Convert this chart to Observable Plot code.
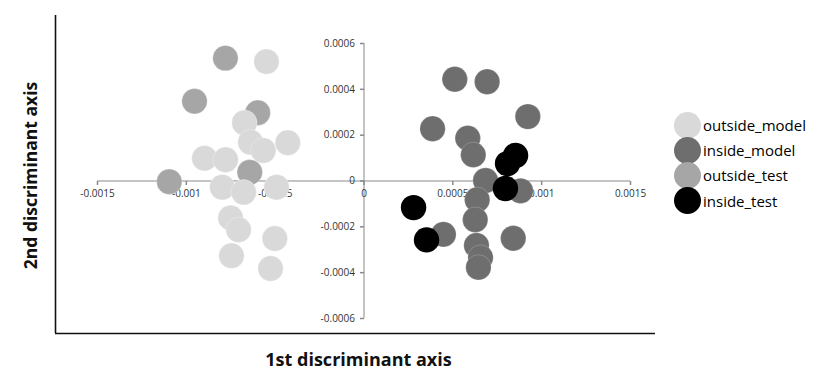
<!DOCTYPE html>
<html>
<head>
<meta charset="utf-8">
<script src="https://cdn.jsdelivr.net/npm/d3@7"></script>
<script src="https://cdn.jsdelivr.net/npm/@observablehq/plot@0.6"></script>
<style>
  body { margin: 0; background: #fff; }
  #wrap { position: relative; width: 827px; height: 377px; overflow: hidden; }
  #legend { position: absolute; left: 0; top: 0; font-family: "Open Sans", sans-serif; }
  .item { position: absolute; left: 674px; height: 27px; display: flex; align-items: center; }
  .sw { width: 27px; height: 27px; border-radius: 50%; }
  .lab { margin-left: 2px; font-size: 15px; color: #000; white-space: nowrap; }
</style>
</head>
<body>
<div id="wrap"><div id="legend"></div></div>
<script>
// ---- data (values in units of the discriminant axes) ----
const seriesNames = ["outside_model", "inside_model", "outside_test", "inside_test"];
const seriesColors = ["#d9d9d9", "#6e6e6e", "#a6a6a6", "#000000"];

const outsideModelX = [-0.000549, -0.000673, -0.000639, -0.000429, -0.000567, -0.000898, -0.000779, -0.000798, -0.000677, -0.000492, -0.000751, -0.000706, -0.000502, -0.000746, -0.000526];
const outsideModelY = [0.000521, 0.000254, 0.000169, 0.000167, 0.000133, 0.000099, 0.000093, -0.000027, -0.000049, -0.000027, -0.000161, -0.000213, -0.000251, -0.000326, -0.000382];

const outsideTestX = [-0.000780, -0.000954, -0.000598, -0.000643, -0.001096];
const outsideTestY = [0.000536, 0.000348, 0.000298, 0.000038, -0.000003];

const insideModelX = [0.000511, 0.000693, 0.000922, 0.000386, 0.000584, 0.000615, 0.000684, 0.000881, 0.000637, 0.000626, 0.000447, 0.000840, 0.000633, 0.000656, 0.000644];
const insideModelY = [0.000444, 0.000433, 0.000281, 0.000228, 0.000187, 0.000114, 0.000002, -0.000043, -0.000082, -0.000169, -0.000233, -0.000250, -0.000281, -0.000334, -0.000377];

const insideTestX = [0.000279, 0.000352, 0.000796, 0.000808, 0.000853];
const insideTestY = [-0.000116, -0.000257, -0.000033, 0.000076, 0.000111];

const xTicks = [-0.0015, -0.001, -0.0005, 0, 0.0005, 0.001, 0.0015];
const xTickLabels = ["-0.0015", "-0.001", "-0.0005", "0", "0.0005", "0.001", "0.0015"];
const yTicks = [-0.0006, -0.0004, -0.0002, 0, 0.0002, 0.0004, 0.0006];
const yTickLabels = ["-0.0006", "-0.0004", "-0.0002", "0", "0.0002", "0.0004", "0.0006"];

const xTitle = "1st discriminant axis";
const yTitle = "2nd discriminant axis";

// ---- build tables ----
function pts(xs, ys, s) { return xs.map((x, i) => ({x, y: ys[i], s})); }
const outsideModel = pts(outsideModelX, outsideModelY, "outside_model");
const outsideTest = pts(outsideTestX, outsideTestY, "outside_test");
const insideModel = pts(insideModelX, insideModelY, "inside_model");
const insideTest = pts(insideTestX, insideTestY, "inside_test");
const xTickData = xTicks.map((v, i) => ({v, t: xTickLabels[i]}));
const yTickData = yTicks.map((v, i) => ({v, t: yTickLabels[i]}));

const tickDown = {draw(ctx) { ctx.moveTo(0, 0); ctx.lineTo(0, 4); }};
const tickLeft = {draw(ctx) { ctx.moveTo(0, 0); ctx.lineTo(-4, 0); }};

const xDomain = [-0.0017364, 0.0016407];
const yDomain = [-0.0006655, 0.0007222];
const axisColor = "#8a8a8a";
const R = 12.7;

const chart = Plot.plot({
  width: 827,
  height: 377,
  marginLeft: 55,
  marginRight: 172,
  marginTop: 15,
  marginBottom: 44,
  style: {background: "#fff", fontFamily: "'Open Sans', sans-serif"},
  x: {domain: xDomain, axis: null},
  y: {domain: yDomain, axis: null},
  color: {domain: seriesNames, range: seriesColors},
  marks: [
    // L-shaped frame
    Plot.ruleX([xDomain[0]], {stroke: "#111", strokeWidth: 1.6}),
    Plot.ruleY([yDomain[0]], {stroke: "#111", strokeWidth: 1.6}),
    // axes through the origin
    Plot.ruleY([0], {x1: d3.min(xTicks), x2: d3.max(xTicks), stroke: axisColor, strokeWidth: 1}),
    Plot.ruleX([0], {y1: d3.min(yTicks), y2: d3.max(yTicks), stroke: axisColor, strokeWidth: 1}),
    Plot.dot(xTickData, {x: "v", y: () => 0, symbol: tickDown, r: 2, fill: "none", stroke: axisColor}),
    Plot.dot(yTickData, {x: () => 0, y: "v", symbol: tickLeft, r: 2, fill: "none", stroke: axisColor}),
    Plot.text(xTickData, {x: "v", y: () => 0, text: "t", dy: 13, fontSize: 10, fill: "#333"}),
    Plot.text(yTickData, {x: () => 0, y: "v", text: "t", dx: -9, textAnchor: "end", fontSize: 10, fill: "#333"}),
    // points
    Plot.dot(outsideTest, {x: "x", y: "y", fill: "s", r: R, stroke: "#ffffff", strokeOpacity: 0.35, strokeWidth: 0.8}),
    Plot.dot(outsideModel, {x: "x", y: "y", fill: "s", r: R, stroke: "#ffffff", strokeOpacity: 0.35, strokeWidth: 0.8}),
    Plot.dot(insideModel, {x: "x", y: "y", fill: "s", r: R, stroke: "#ffffff", strokeOpacity: 0.25, strokeWidth: 0.8}),
    Plot.dot(insideTest, {x: "x", y: "y", fill: "s", r: R}),
    // axis titles
    Plot.text([xTitle], {frameAnchor: "bottom", text: d => d, dy: 27, dx: 3, textAnchor: "middle", lineAnchor: "middle", fontSize: 18, fontWeight: "bold", fill: "#111"}),
    Plot.text([yTitle], {frameAnchor: "left", text: d => d, dx: -24, dy: 1, rotate: -90, textAnchor: "middle", lineAnchor: "middle", fontSize: 17.5, fontWeight: "bold", fill: "#111"})
  ]
});
document.getElementById("wrap").prepend(chart);

// legend
const legend = d3.select("#legend");
const legendTops = seriesNames.map((_, i) => 111.5 + i * 25.2);
seriesNames.forEach((name, i) => {
  const item = legend.append("div").attr("class", "item").style("top", legendTops[i] + "px");
  item.append("div").attr("class", "sw").style("background", seriesColors[i]);
  item.append("div").attr("class", "lab").text(name);
});
</script>
</body>
</html>
